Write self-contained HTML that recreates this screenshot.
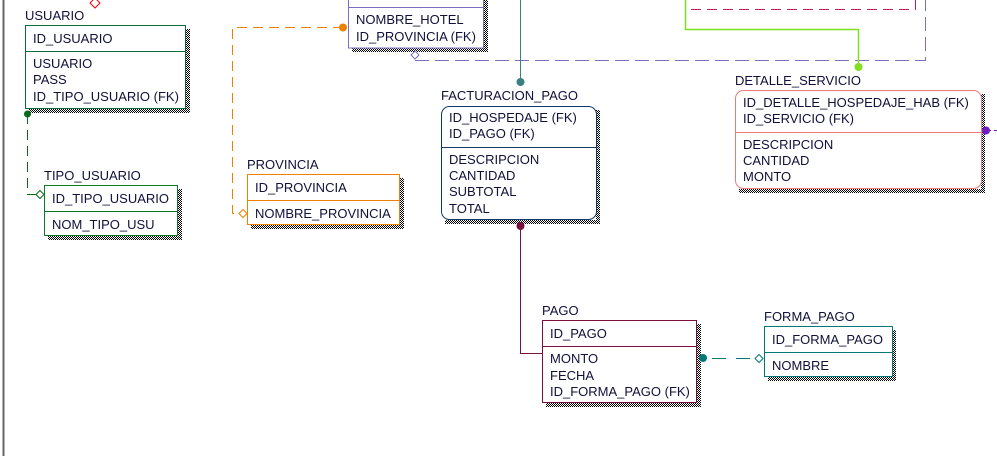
<!DOCTYPE html>
<html><head><meta charset="utf-8"><style>
html,body{margin:0;padding:0;background:#fff;}
svg{display:block;}
text{font-family:"Liberation Sans",Arial,sans-serif;font-size:13px;fill:#10103a;}
</style></head><body>
<svg width="997" height="456" viewBox="0 0 997 456" xmlns="http://www.w3.org/2000/svg">
<defs>
<pattern id="ck" width="2" height="2" patternUnits="userSpaceOnUse">
<rect width="1" height="1" fill="#000"/><rect x="1" y="1" width="1" height="1" fill="#000"/>
</pattern>
</defs>
<line x1="3.5" y1="0" x2="3.5" y2="456" stroke="#666" stroke-width="2"/>

<g fill="url(#ck)">
<rect x="186" y="29" width="4" height="84"/><rect x="29" y="109" width="161" height="4"/>
<rect x="178" y="189" width="4" height="51"/><rect x="48" y="236" width="134" height="4"/>
<rect x="400" y="178" width="4" height="51"/><rect x="251" y="225" width="153" height="4"/>
<rect x="484" y="0" width="4" height="52"/><rect x="352" y="48" width="136" height="4"/>
<rect x="596" y="110" width="4" height="114"/><rect x="445" y="220" width="155" height="4"/>
<rect x="981" y="94" width="4" height="99"/><rect x="739" y="189" width="246" height="4"/>
<rect x="697" y="324" width="4" height="83"/><rect x="546" y="403" width="155" height="4"/>
<rect x="892" y="330" width="4" height="51"/><rect x="768" y="377" width="128" height="4"/>
</g>

<polygon points="95,-2 100,3 95,8 90,3" fill="#fff" stroke="#e00" stroke-width="1"/>
<path d="M27.5 114 V194.5 H37" fill="none" stroke="#0a6a1a" stroke-dasharray="10,6"/>
<circle cx="27.5" cy="114" r="3.5" fill="#0a6a1a"/>
<polygon points="36,194.5 40,190.5 44,194.5 40,198.5" fill="#fff" stroke="#0a6a1a"/>

<path d="M343 27.5 H232.5 V213.5 H240" fill="none" stroke="#f08000" stroke-dasharray="10,6"/>
<circle cx="343" cy="27.5" r="4" fill="#f08000"/>
<polygon points="239,213.5 243,209.5 247,213.5 243,217.5" fill="#fff" stroke="#f08000"/>

<path d="M415 60.5 H925.5 V0" fill="none" stroke="#7a70c0" stroke-dasharray="14,6"/>
<polygon points="411,55 415,51 419,55 415,59" fill="#fff" stroke="#7a70c0"/>
<path d="M691 9.5 H915.5 V0" fill="none" stroke="#c02060" stroke-dasharray="10,6"/>
<path d="M685.5 0 V29.5 H858.5 V66" fill="none" stroke="#80e020" stroke-width="1.5"/>
<circle cx="858.5" cy="67" r="4" fill="#80e020"/>

<line x1="520.5" y1="0" x2="520.5" y2="80" stroke="#3a8080"/>
<circle cx="520.5" cy="82" r="4" fill="#3a8080"/>

<path d="M520.5 226 V353.5 H542" fill="none" stroke="#7a1040"/>
<circle cx="520.5" cy="226" r="4" fill="#7a1040"/>

<path d="M704 358.5 H755" fill="none" stroke="#007878" stroke-dasharray="14,10" stroke-dashoffset="-8"/>
<circle cx="703" cy="358" r="4" fill="#007878"/>
<polygon points="755,358.5 759,354.5 763,358.5 759,362.5" fill="#fff" stroke="#007878"/>

<line x1="986" y1="130.5" x2="997" y2="130.5" stroke="#7020c0" stroke-dasharray="5,3"/>
<circle cx="986" cy="130.5" r="4" fill="#7020c0"/>

<text x="25" y="20">USUARIO</text>
<rect x="25.5" y="25.5" width="160" height="83" fill="#fff" stroke="#0a6a3a"/>
<line x1="25" y1="51.5" x2="186" y2="51.5" stroke="#0a6a3a"/>
<text x="33" y="43">ID_USUARIO</text>
<text x="33" y="68">USUARIO</text><text x="33" y="84">PASS</text><text x="33" y="101">ID_TIPO_USUARIO (FK)</text>

<text x="44" y="180">TIPO_USUARIO</text>
<rect x="44.5" y="185.5" width="133" height="50" fill="#fff" stroke="#0a7a2a"/>
<line x1="44" y1="211.5" x2="178" y2="211.5" stroke="#0a7a2a"/>
<text x="52" y="203">ID_TIPO_USUARIO</text><text x="52" y="229">NOM_TIPO_USU</text>

<text x="247" y="169">PROVINCIA</text>
<rect x="247.5" y="174.5" width="152" height="50" fill="#fff" stroke="#f08000"/>
<line x1="247" y1="200.5" x2="400" y2="200.5" stroke="#f08000"/>
<text x="255" y="192">ID_PROVINCIA</text><text x="255" y="218">NOMBRE_PROVINCIA</text>

<rect x="348.5" y="-10" width="135" height="58" fill="#fff" stroke="#7a70c0"/>
<line x1="348" y1="7.5" x2="484" y2="7.5" stroke="#7a70c0"/>
<text x="356" y="24">NOMBRE_HOTEL</text><text x="356" y="41">ID_PROVINCIA (FK)</text>

<text x="441" y="100">FACTURACION_PAGO</text>
<rect x="441.5" y="106.5" width="155" height="113" rx="8" fill="#fff" stroke="#103a6a"/>
<line x1="441" y1="147.5" x2="597" y2="147.5" stroke="#103a6a"/>
<text x="449" y="122">ID_HOSPEDAJE (FK)</text><text x="449" y="138">ID_PAGO (FK)</text>
<text x="449" y="164">DESCRIPCION</text><text x="449" y="180">CANTIDAD</text><text x="449" y="196">SUBTOTAL</text><text x="449" y="213">TOTAL</text>

<text x="735" y="85">DETALLE_SERVICIO</text>
<rect x="735.5" y="90.5" width="246" height="98" rx="8" fill="#fff" stroke="#f07878"/>
<line x1="735" y1="132.5" x2="982" y2="132.5" stroke="#f07878"/>
<text x="743" y="107">ID_DETALLE_HOSPEDAJE_HAB (FK)</text><text x="743" y="123">ID_SERVICIO (FK)</text>
<text x="743" y="149">DESCRIPCION</text><text x="743" y="165">CANTIDAD</text><text x="743" y="181">MONTO</text>

<text x="542" y="315">PAGO</text>
<rect x="542.5" y="320.5" width="154" height="82" fill="#fff" stroke="#7a1040"/>
<line x1="542" y1="346.5" x2="697" y2="346.5" stroke="#7a1040"/>
<text x="550" y="338">ID_PAGO</text>
<text x="550" y="363">MONTO</text><text x="550" y="380">FECHA</text><text x="550" y="396">ID_FORMA_PAGO (FK)</text>

<text x="764" y="321">FORMA_PAGO</text>
<rect x="764.5" y="326.5" width="128" height="50" fill="#fff" stroke="#007878"/>
<line x1="764" y1="352.5" x2="893" y2="352.5" stroke="#007878"/>
<text x="772" y="344">ID_FORMA_PAGO</text><text x="772" y="370">NOMBRE</text>
</svg>
</body></html>
